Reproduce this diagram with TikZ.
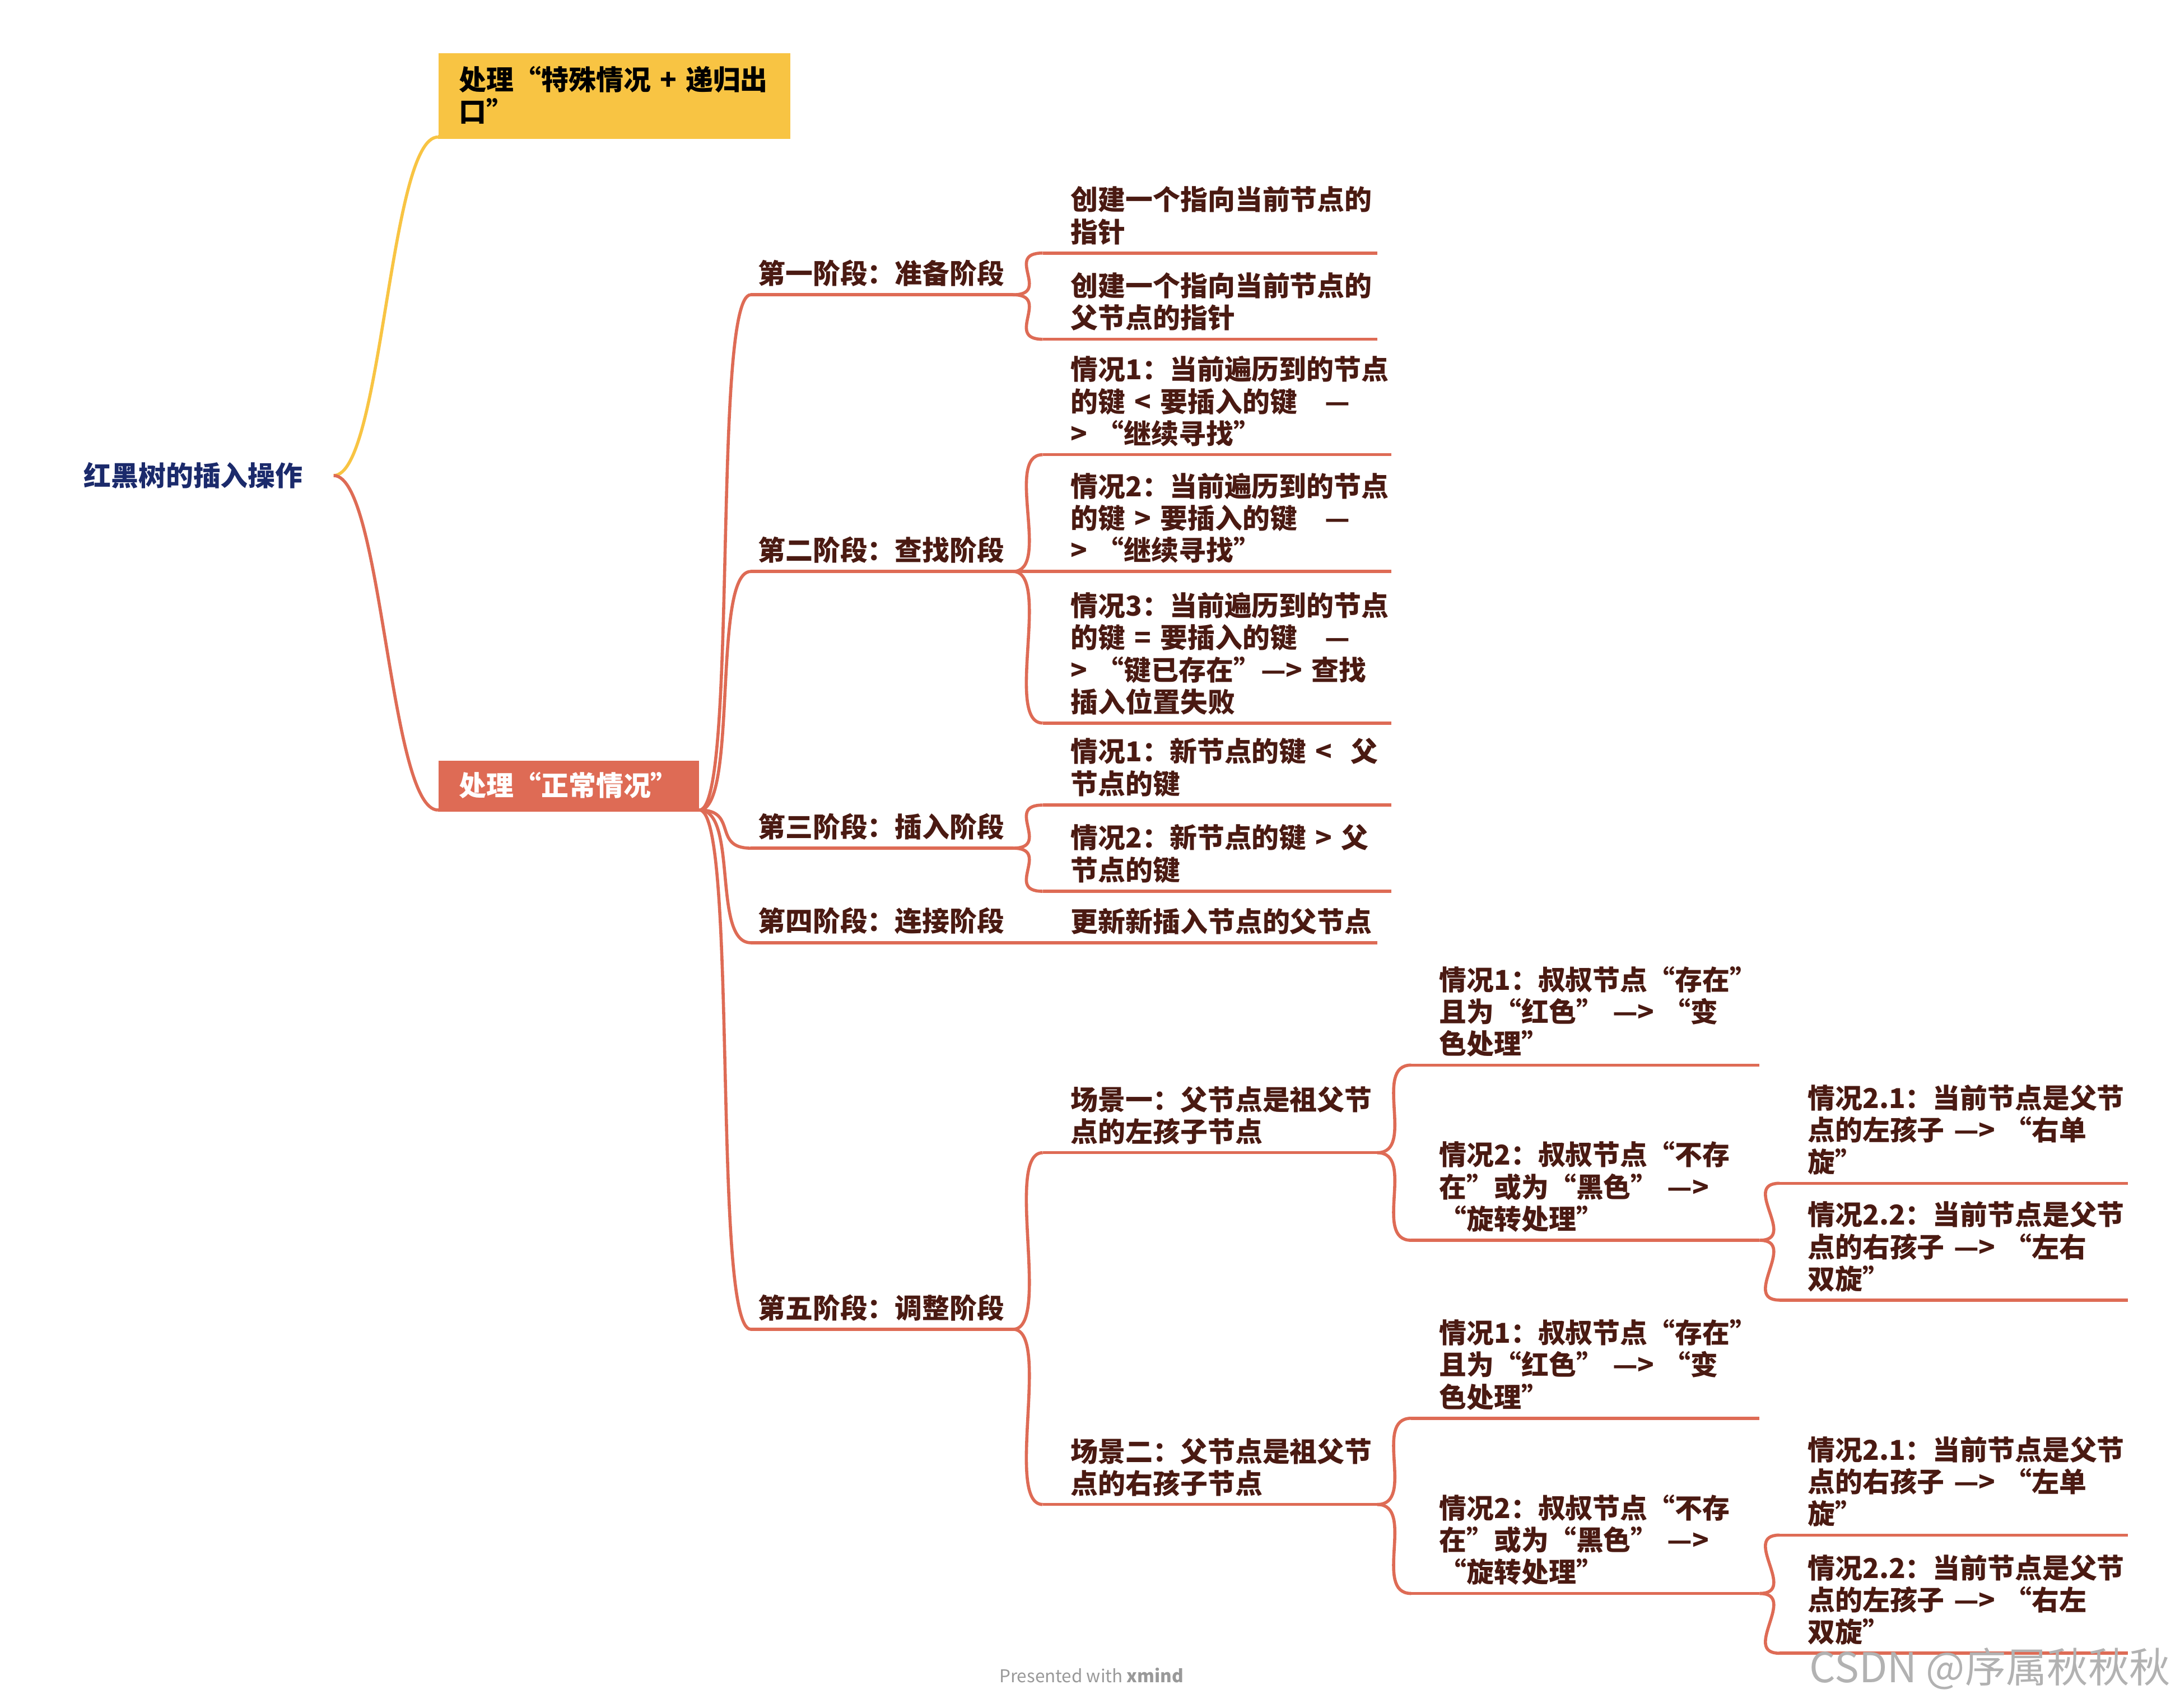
\documentclass[tikz,border=0pt]{standalone}
\usepackage{fontspec}
\setmainfont{Noto Sans CJK SC}
\usetikzlibrary{calc}
\definecolor{branch}{HTML}{DE6B55}
\definecolor{gold}{HTML}{F8C443}
\definecolor{txt}{HTML}{4A1A12}
\definecolor{navy}{HTML}{1B2A6B}
\tikzset{
  topic/.style={anchor=south west, inner xsep=0pt, inner ysep=4pt, align=left,
    text=txt, font=\fontsize{14pt}{16.4pt}\selectfont\bfseries},
  uline/.style={branch, line width=1.6pt},
  link/.style={branch, line width=1.6pt},
}
% name, x0, y, offset, text width, text
\newcommand\topic[6]{%
  \node[topic, text width=#5] (#1) at (#2+#4,#3) {#6};
  \coordinate (#1-l) at (#2,#3);
  \draw[uline] (#1-l) -- (#1.south east);}
\newcommand\conn[2]{%
  \draw[link] (#1) .. controls +(28,0) and +(-28,0) .. (#2);}
\begin{document}
\begin{tikzpicture}[x=0.025cm, y=-0.025cm]
\useasboundingbox (0,0) rectangle (1568,1228);
% root
\node[text=navy, font=\fontsize{14pt}{16pt}\selectfont\bfseries, anchor=west, inner sep=0pt] (root) at (60,342) {红黑树的插入操作};
\coordinate (root-r) at (240,342);
% main branches
\node[fill=gold, anchor=north west, minimum width=253*0.025cm, minimum height=60*0.025cm,
  text width=223*0.025cm, inner xsep=15*0.025cm, align=left, text=black,
  font=\fontsize{14pt}{16.4pt}\selectfont\bfseries] (special) at (315,38) {处理“特殊情况 + 递归出\\口”};
\draw[gold, line width=2pt] (special.south west) -- (special.south east);
\node[fill=branch, anchor=north west, minimum width=185*0.025cm, minimum height=35*0.025cm,
  inner xsep=15*0.025cm, text=white,
  font=\fontsize{14pt}{16.4pt}\selectfont\bfseries] (normal) at (315,547) {处理“正常情况”};
\draw[uline, line width=2pt] (normal.south west) -- (normal.south east);
\draw[gold, line width=1.6pt] (root-r) .. controls +(35,0) and +(-35,0) .. (special.south west);
\draw[link] (root-r) .. controls +(35,0) and +(-35,0) .. (normal.south west);
% stages
\topic{s1}{540}{212}{5}{4.575cm}{第一阶段：准备阶段}
\topic{s2}{540}{411}{5}{4.575cm}{第二阶段：查找阶段}
\topic{s3}{540}{610}{5}{4.575cm}{第三阶段：插入阶段}
\topic{s4}{540}{678}{5}{4.575cm}{第四阶段：连接阶段}
\topic{s5}{540}{956}{5}{4.575cm}{第五阶段：调整阶段}
\foreach \s in {s1,s2,s3,s4,s5} {\conn{normal.south east}{\s-l}}
% stage 1
\topic{a1}{750}{182}{20}{5.5cm}{创建一个指向当前节点的\\指针}
\topic{a2}{750}{244}{20}{5.5cm}{创建一个指向当前节点的\\父节点的指针}
\conn{s1.south east}{a1-l}
\conn{s1.south east}{a2-l}
% stage 2
\topic{b1}{750}{327}{20}{5.75cm}{情况1：当前遍历到的节点\\的键 < 要插入的键　---\\> “继续寻找”}
\topic{b2}{750}{411}{20}{5.75cm}{情况2：当前遍历到的节点\\的键 > 要插入的键　---\\> “继续寻找”}
\topic{b3}{750}{520}{20}{5.75cm}{情况3：当前遍历到的节点\\的键 = 要插入的键　---\\> “键已存在”---> 查找\\插入位置失败}
\foreach \c in {b1,b2,b3} {\conn{s2.south east}{\c-l}}
% stage 3
\topic{c1}{750}{579}{20}{5.75cm}{情况1：新节点的键 <\ \ 父\\节点的键}
\topic{c2}{750}{641}{20}{5.75cm}{情况2：新节点的键 > 父\\节点的键}
\conn{s3.south east}{c1-l}
\conn{s3.south east}{c2-l}
% stage 4
\topic{d1}{750}{678}{20}{5.5cm}{更新新插入节点的父节点}
\conn{s4.south east}{d1-l}
% stage 5
\topic{e1}{750}{829}{20}{5.5cm}{场景一：父节点是祖父节\\点的左孩子节点}
\topic{e2}{750}{1082}{20}{5.5cm}{场景二：父节点是祖父节\\点的右孩子节点}
\conn{s5.south east}{e1-l}
\conn{s5.south east}{e2-l}
% scene 1
\topic{f1}{1015}{766}{20}{5.75cm}{情况1：叔叔节点“存在”\\且为“红色” ---> “变\\色处理”}
\topic{f2}{1015}{892}{20}{5.75cm}{情况2：叔叔节点“不存\\在”或为“黑色” --->\\“旋转处理”}
\conn{e1.south east}{f1-l}
\conn{e1.south east}{f2-l}
\topic{g1}{1280}{851}{20}{5.75cm}{情况2.1：当前节点是父节\\点的左孩子 ---> “右单\\旋”}
\topic{g2}{1280}{935}{20}{5.75cm}{情况2.2：当前节点是父节\\点的右孩子 ---> “左右\\双旋”}
\conn{f2.south east}{g1-l}
\conn{f2.south east}{g2-l}
% scene 2
\topic{h1}{1015}{1020}{20}{5.75cm}{情况1：叔叔节点“存在”\\且为“红色” ---> “变\\色处理”}
\topic{h2}{1015}{1146}{20}{5.75cm}{情况2：叔叔节点“不存\\在”或为“黑色” --->\\“旋转处理”}
\conn{e2.south east}{h1-l}
\conn{e2.south east}{h2-l}
\topic{k1}{1280}{1104}{20}{5.75cm}{情况2.1：当前节点是父节\\点的右孩子 ---> “左单\\旋”}
\topic{k2}{1280}{1189}{20}{5.75cm}{情况2.2：当前节点是父节\\点的左孩子 ---> “右左\\双旋”}
\conn{h2.south east}{k1-l}
\conn{h2.south east}{k2-l}
% footer
\node[text=black!40, font=\fontsize{9pt}{10pt}\selectfont] (pres) at (785,1205) {Presented with \textbf{xmind}};
\node[text=black!30, font=\fontsize{21pt}{22pt}\selectfont, anchor=east] (csdn) at (1566,1200) {CSDN @序属秋秋秋};
\end{tikzpicture}
\end{document}
